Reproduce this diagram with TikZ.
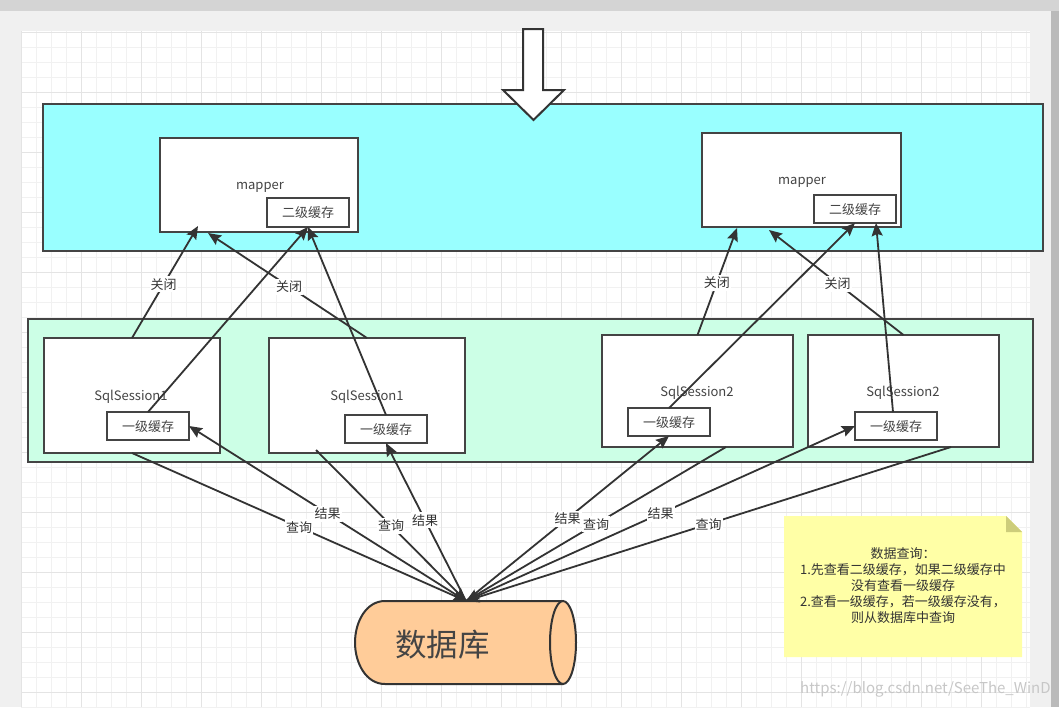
\documentclass[tikz,border=0pt]{standalone}
\usepackage{fontspec}
\setmainfont{Noto Sans CJK SC}
\usetikzlibrary{arrows.meta}
\definecolor{ink}{HTML}{333333}
\definecolor{txt}{HTML}{444444}
\definecolor{cyanband}{HTML}{99FFFF}
\definecolor{greenband}{HTML}{CCFFE6}
\definecolor{dbfill}{HTML}{FFCC99}
\definecolor{notefill}{HTML}{FFFFA6}
\definecolor{foldfill}{HTML}{CDCD7B}
\definecolor{pagebg}{HTML}{F0F0F0}
\definecolor{minorgrid}{HTML}{F1F1F1}
\definecolor{majorgrid}{HTML}{E4E4E4}
\tikzset{
  box/.style={draw=txt,line width=2pt,inner sep=0pt,outer sep=0pt,text=txt,text height=10pt,text depth=0pt,font=\fontsize{13}{15}\selectfont,minimum width=#1},
  conn/.style={draw=ink,line width=1.8pt,-{Stealth[length=13pt,width=11pt,inset=2pt]}},
  lab/.style={fill=white,inner xsep=1pt,inner ysep=3pt,text=ink,text height=10pt,text depth=0pt,font=\fontsize{13}{15}\selectfont},
  plain/.style={inner sep=0pt,text=txt,text height=10pt,text depth=0pt,font=\fontsize{13}{15}\selectfont}
}
\begin{document}
\begin{tikzpicture}[x=1pt,y=-1pt]
\useasboundingbox (0,0) rectangle (1059,707);
% page
\fill[pagebg] (0,0) rectangle (1059,707);
\fill[black!17!white] (0,0) rectangle (1059,11);
\fill[black!27!white] (1051,11) rectangle (1059,707);
\fill[white] (21,31) rectangle (1030,707);
\foreach \x in {36,51,...,1026} \draw[minorgrid,line width=1pt] (\x,31) -- (\x,707);
\foreach \y in {47,62,...,707} \draw[minorgrid,line width=1pt] (21,\y) -- (1030,\y);
\foreach \x in {21,81,...,1026} \draw[majorgrid,line width=1pt] (\x,31) -- (\x,707);
\foreach \y in {32,92,...,707} \draw[majorgrid,line width=1pt] (21,\y) -- (1030,\y);
% bands
\node[box=1000pt,minimum height=147pt,fill=cyanband] (cyanb) at (543,177.5) {};
\node[box=1005pt,minimum height=143pt,fill=greenband] (greenb) at (530.5,390.5) {};
% block arrow
\filldraw[draw=ink,fill=white,line width=2pt,line join=miter] (523,29) -- (543,29) -- (543,90) -- (564,90) -- (533.5,120) -- (503,90) -- (523,90) -- cycle;
% mappers
\node[box=198pt,minimum height=94pt,fill=white] (m1) at (259,185) {};
\node[plain] (m1t) at (260,184) {mapper};
\node[box=82pt,minimum height=29pt,fill=white] (m1c) at (308,212.5) {二级缓存};
\node[box=199pt,minimum height=94pt,fill=white] (m2) at (801.5,180) {};
\node[plain] (m2t) at (802,179) {mapper};
\node[box=82pt,minimum height=28pt,fill=white] (m2c) at (855,209) {二级缓存};
% sessions
\node[box=176pt,minimum height=115pt,fill=white] (s1) at (132,395.5) {};
\node[plain] (s1t) at (131,395) {SqlSession1};
\node[box=82pt,minimum height=28pt,fill=white] (c1) at (148,426) {一级缓存};
\node[box=196pt,minimum height=115pt,fill=white] (s2) at (367,395.5) {};
\node[plain] (s2t) at (367,395) {SqlSession1};
\node[box=82pt,minimum height=28pt,fill=white] (c2) at (386,429) {一级缓存};
\node[box=191pt,minimum height=112pt,fill=white] (s3) at (697.5,391) {};
\node[plain] (s3t) at (697,391) {SqlSession2};
\node[box=82pt,minimum height=28pt,fill=white] (c3) at (669,422) {一级缓存};
\node[box=191pt,minimum height=112pt,fill=white] (s4) at (903.5,391) {};
\node[plain] (s4t) at (903,391) {SqlSession2};
\node[box=82pt,minimum height=28pt,fill=white] (c4) at (896,426) {一级缓存};
% database
\filldraw[draw=ink,fill=dbfill,line width=2pt] (563,601) -- (385,601) .. controls (366,601) and (355,622) .. (355,642.5) .. controls (355,663) and (366,684) .. (385,684) -- (563,684);
\filldraw[draw=ink,fill=dbfill,line width=2pt] (563,642.5) ellipse [x radius=13,y radius=41.5];
\node[inner sep=0pt,text=txt,text height=24pt,text depth=0pt,font=\fontsize{31.5}{34}\selectfont] (db) at (442.5,644) {数据库};
\coordinate (dbt) at (466,601);
% note
\fill[notefill] (784,516) -- (1006,516) -- (1022,532) -- (1022,657) -- (784,657) -- cycle;
\fill[foldfill] (1006,516) -- (1022,532) -- (1006,532) -- cycle;
\node[align=center,inner sep=0pt,text=ink,font=\fontsize{13}{16}\selectfont] (note) at (903,586) {数据查询：\\1.先查看二级缓存，如果二级缓存中\\没有查看一级缓存\\2.查看一级缓存，若一级缓存没有，\\则从数据库中查询};
% free ends
\coordinate (t1) at (198,226);
\coordinate (t2) at (208,233);
\coordinate (t3) at (737,228);
\coordinate (t4) at (769,230);
\coordinate (t5) at (876,223);
\coordinate (f2) at (316,450);
\coordinate (f3) at (726,447);
\coordinate (f4) at (951,447);
\coordinate (f5) at (893,412);
% connectors up
\draw[conn] (s1.north) -- node[lab,pos=.48] {关闭} (t1);
\draw[conn] (c1.north) -- (m1c.south);
\draw[conn] (s2.north) -- node[lab,pos=.49] {关闭} (t2);
\draw[conn] (c2.north) -- (m1c.south);
\draw[conn] (s3.north) -- node[lab,pos=.49] {关闭} (t3);
\draw[conn] (c3.north) -- (m2c.south);
\draw[conn] (s4.north) -- node[lab,pos=.49] {关闭} (t4);
\draw[conn] (f5) -- (t5);
% connectors down
\draw[conn] (s1.south) -- node[lab,pos=.5] {查询} (dbt);
\draw[conn] (dbt) -- node[lab,pos=.5] {结果} (c1.east);
\draw[conn] (f2) -- node[lab,pos=.5] {查询} (dbt);
\draw[conn] (dbt) -- node[lab,pos=.51] {结果} (c2.south);
\draw[conn] (dbt) -- node[lab,pos=.5] {结果} (c3.south);
\draw[conn] (f3) -- node[lab,pos=.5] {查询} (dbt);
\draw[conn] (dbt) -- node[lab,pos=.5] {结果} (c4.west);
\draw[conn] (f4) -- node[lab,pos=.5] {查询} (dbt);
% watermark
\node[inner sep=0pt,anchor=west,text=black!22!white,font=\fontsize{15}{17}\selectfont] (wm) at (800,689) {https://blog.csdn.net/SeeThe\_WinD};
\end{tikzpicture}
\end{document}
